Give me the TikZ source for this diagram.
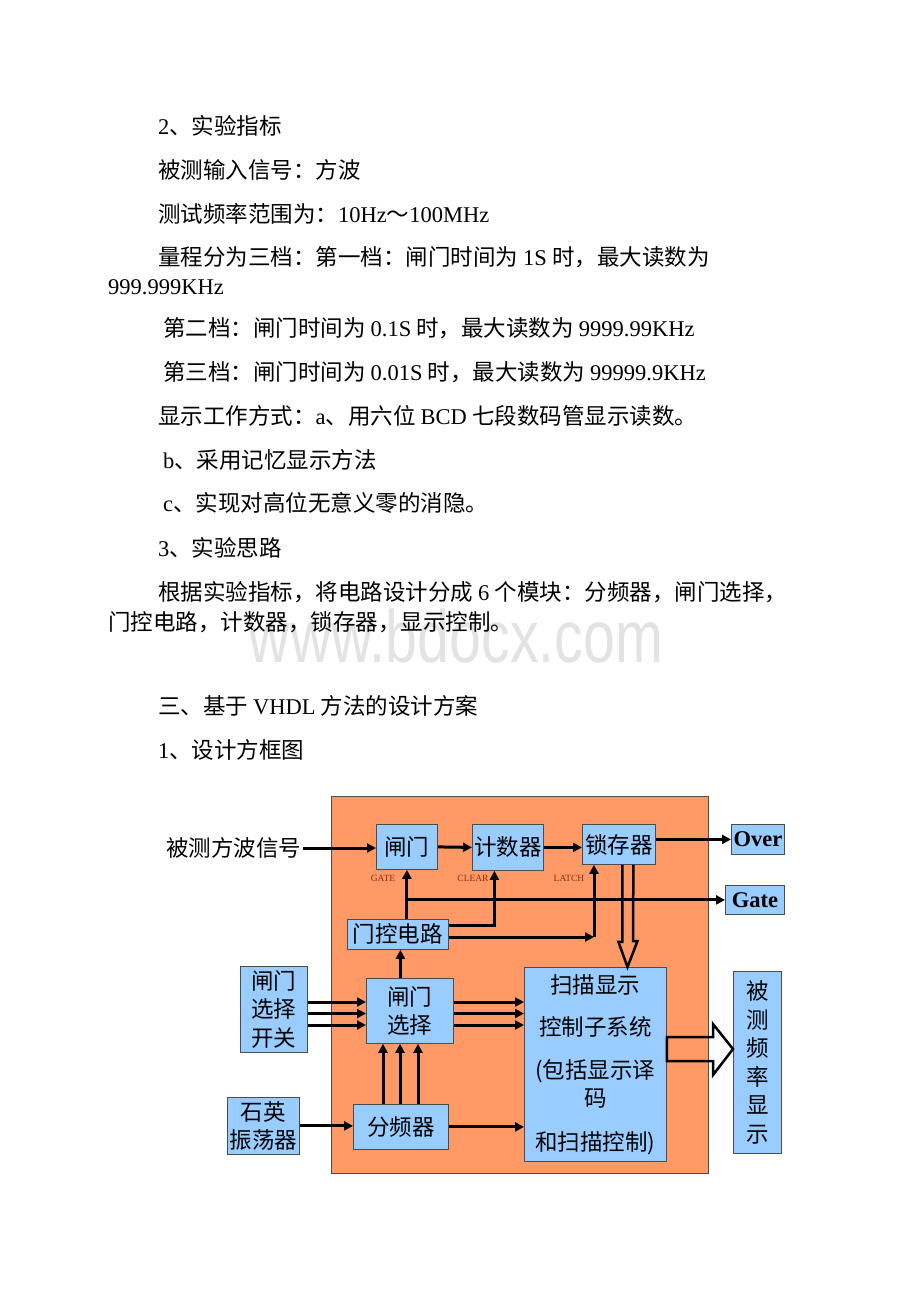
\documentclass[tikz,border=0pt]{standalone}
\usepackage{fontspec}
\setmainfont{Noto Sans CJK SC}
\newfontfamily\latfont{Liberation Serif}
\newfontfamily\wmfont{Liberation Sans}
\usetikzlibrary{arrows.meta}
\definecolor{sysorange}{RGB}{255,153,102}
\definecolor{boxblue}{RGB}{153,204,255}
\definecolor{tagred}{RGB}{140,45,20}
\newcommand{\en}[1]{{\latfont #1}}
\newcommand{\bodyfont}{\fontsize{22.5}{30}\selectfont}
\newcommand{\dgmfont}{\fontsize{22.5}{28.5}\selectfont}
\newcommand{\pline}[3]{\node[para] (#1) at (#2) {#3};}
\newcommand{\blk}[5]{
	\node[box,minimum width=#3pt,minimum height=#4pt] (#1) at (#2) {#5};
	}

\begin{document}
\begin{tikzpicture}[
      x=1pt,y=-1pt, % pixel like coordinates, y grows downwards
      para/.style={anchor=west,inner sep=0pt,font=\bodyfont},
      box/.style={draw=black!70,fill=boxblue,line width=0.8pt,inner sep=1pt,
        anchor=north west,align=center,font=\dgmfont},
      tag/.style={inner sep=0pt,text=tagred,font=\latfont\fontsize{9.5}{10}\selectfont},
      sig/.style={line width=3pt,-{Triangle[length=9pt,width=9pt]}},
      hollow/.style={line width=2.5pt,line join=miter},
      wm/.style={inner sep=0pt,anchor=base,text=black!11,font=\wmfont\fontsize{74}{74}\selectfont}
    ]
    \fill[white] (0,0) rectangle (920,1302);
    \useasboundingbox (0,0) rectangle (920,1302);
    % watermark
    \node[wm] (wmark) at (456,662) {\scalebox{0.775}[1]{www.bdocx.com}};
    % the text of the page
    \pline{l1}{158,126}{\en{2}、实验指标}
    \pline{l2}{158,170}{被测输入信号：方波}
    \pline{l3}{158,214}{测试频率范围为：\en{10Hz}～\en{100MHz}}
    \pline{l4}{158,257}{量程分为三档：第一档：闸门时间为 \en{1S} 时，最大读数为}
    \pline{l5}{108,287}{\en{999.999KHz}}
    \pline{l6}{163,328}{第二档：闸门时间为 \en{0.1S} 时，最大读数为 \en{9999.99KHz}}
    \pline{l7}{163,372}{第三档：闸门时间为 \en{0.01S} 时，最大读数为 \en{99999.9KHz}}
    \pline{l8}{158,416}{显示工作方式：\en{a}、用六位 \en{BCD} 七段数码管显示读数。}
    \pline{l9}{163,460}{\en{b}、采用记忆显示方法}
    \pline{l10}{163,503}{\en{c}、实现对高位无意义零的消隐。}
    \pline{l11}{158,548}{\en{3}、实验思路}
    \pline{l12}{158,592}{根据实验指标，将电路设计分成 \en{6} 个模块：分频器，闸门选择，}
    \pline{l13}{108,622}{门控电路，计数器，锁存器，显示控制。}
    \pline{l14}{158,706}{三、基于 \en{VHDL} 方法的设计方案}
    \pline{l15}{158,750}{\en{1}、设计方框图}
    % the system block
    \filldraw[fill=sysorange,draw=black!70,line width=0.8pt] (331,796) rectangle (708,1173);
    % blocks
    \blk{gatebox}{376,824}{61}{45}{闸门}
    \blk{counter}{472,824}{71}{46}{计数器}
    \blk{latch}{582,824}{73}{40}{锁存器}
    \blk{over}{731,824}{53}{30}{\en{\bfseries Over}}
    \blk{gateout}{725,885}{59}{29}{\en{\bfseries Gate}}
    \blk{ctrl}{347,919}{101}{30}{门控电路}
    \blk{selsw}{240,966}{67}{86}{闸门\\选择\\开关}
    \blk{sel}{366,978}{87}{65}{闸门\\选择}
    \blk{div}{353,1104}{95}{45}{分频器}
    \blk{osc}{227,1097}{72}{57}{石英\\振荡器}
    \blk{scan}{524,967}{142}{194}{扫描显示\\[14pt]控制子系统\\[14pt](包括显示译\\码\\[15pt]和扫描控制)}
    \blk{disp}{733,971}{48}{182}{被\\测\\频\\率\\显\\示}
    \node[para] (insig) at (166,848) {被测方波信号};
    % signal names
    \node[tag] (tgate) at (383,878) {GATE};
    \node[tag] (tclear) at (473,878) {CLEAR};
    \node[tag] (tlatch) at (569,878) {LATCH};
    % connections
    \draw[sig] ([xshift=2pt]insig.east) -- (insig.east -| gatebox.west);
    \draw[sig] (gatebox.east) -- (counter.west);
    \draw[sig] (counter.east) -- (counter.east -| latch.west);
    \draw[sig] (latch.east |- over.west) -- (over.west);
    \draw[sig] (ctrl.north -| gatebox.south) -- (gatebox.south);
    \draw[sig] (gatebox.south |- gateout.west) -- (gateout.west);
    \draw[sig] (ctrl.east |- 0,925) -| ([xshift=-13.5pt]counter.south);
    \coordinate (lcorner) at (594,937);
    \draw[sig] (ctrl.east |- lcorner) -- (lcorner);
    \draw[sig] (lcorner) -- (lcorner |- latch.south);
    \draw[sig] ([xshift=-9.5pt]sel.north) -- ([xshift=-9.5pt]sel.north |- ctrl.south);
    \draw[sig] (selsw.east |- 0,1002) -- (sel.west |- 0,1002);
    \draw[sig] (selsw.east |- 0,1013.5) -- (sel.west |- 0,1013.5);
    \draw[sig] (selsw.east |- 0,1025) -- (sel.west |- 0,1025);
    \draw[sig] (sel.east |- 0,1002) -- (scan.west |- 0,1002);
    \draw[sig] (sel.east |- 0,1013.5) -- (scan.west |- 0,1013.5);
    \draw[sig] (sel.east |- 0,1025) -- (scan.west |- 0,1025);
    \draw[sig] (div.north -| 383,0) -- (sel.south -| 383,0);
    \draw[sig] (div.north -| 400,0) -- (sel.south -| 400,0);
    \draw[sig] (div.north -| 418,0) -- (sel.south -| 418,0);
    \draw[sig] (osc.east) -- (osc.east -| div.west);
    \draw[sig] (div.east) -- (div.east -| scan.west);
    % hollow arrows
    \draw[hollow] ([xshift=3.5pt]latch.south) -- ++(0,77) -- ++(-4,0)
      -- (scan.north -| 627.5,0) -- ++(10,-26) -- ++(-4.5,0) -- ([xshift=14.5pt]latch.south);
    \draw[hollow] (scan.east |- 0,1037) -- (713,1037) -- (713,1024)
      -- (disp.west |- 0,1049) -- (713,1075) -- (713,1061) -- (scan.east |- 0,1061) -- cycle;
\end{tikzpicture}
\end{document}
